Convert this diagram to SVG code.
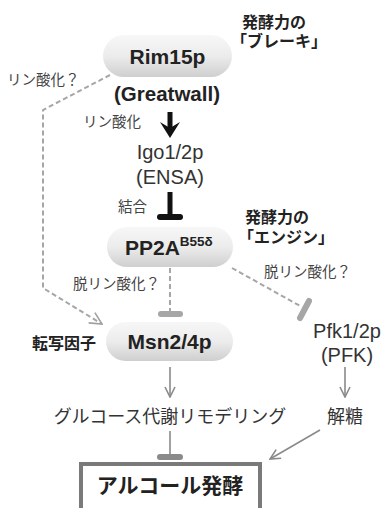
<svg xmlns="http://www.w3.org/2000/svg" width="385" height="508" viewBox="0 0 385 508">
<defs>
<linearGradient id="pill" x1="0" y1="0" x2="0" y2="1">
<stop offset="0" stop-color="#f7f7f7"/>
<stop offset="0.5" stop-color="#ececec"/>
<stop offset="1" stop-color="#cfcfcf"/>
</linearGradient>
<marker id="open" viewBox="0 0 12 12" refX="11" refY="6" markerWidth="12" markerHeight="12" markerUnits="userSpaceOnUse" orient="auto">
<path d="M1,1 L11,6 L1,11" fill="none" stroke="#8a8a8a" stroke-width="1.6"/>
</marker>
<marker id="openD" viewBox="0 0 14 14" refX="13" refY="7" markerWidth="14" markerHeight="14" markerUnits="userSpaceOnUse" orient="auto">
<path d="M1,1 L13,7 L1,13" fill="none" stroke="#a0a0a0" stroke-width="1.6"/>
</marker>
</defs>
<style>
text{font-family:"Liberation Sans","Noto Sans CJK JP",sans-serif;fill:#333}
.b{font-weight:bold;fill:#222}
.pillt{font-weight:bold;font-size:21px;fill:#222}
.lab{font-size:14.5px;fill:#444}
.reg{font-size:20px;fill:#333}
.jreg{font-size:18px;fill:#333}
.note{font-size:16px;font-weight:bold;fill:#222}
.dash{fill:none;stroke:#a6a6a6;stroke-width:2;stroke-dasharray:5,3}
.gray{fill:none;stroke:#8a8a8a;stroke-width:1.6}
.tbar{stroke:#8a8a8a;stroke-width:6;stroke-linecap:round}
.tbarL{stroke:#a6a6a6;stroke-width:6;stroke-linecap:round}
</style>

<g id="connectors">
<polyline class="dash" points="110,75 43,110 43,288 102,324" marker-end="url(#openD)"/>
<line x1="170" y1="112" x2="170" y2="128" stroke="#111" stroke-width="5"/>
<path d="M160,122 L170,128 L180,122 L170,138 Z" fill="#111"/>
<line x1="170" y1="192" x2="170" y2="216" stroke="#111" stroke-width="5"/>
<line x1="160" y1="217" x2="180" y2="217" stroke="#111" stroke-width="6" stroke-linecap="round"/>
<line class="dash" x1="170" y1="268" x2="170" y2="311"/>
<line class="tbarL" x1="161" y1="314" x2="180" y2="314"/>
<line class="dash" x1="232" y1="268" x2="302" y2="307"/>
<line class="tbarL" x1="300" y1="318" x2="309" y2="301"/>
<line class="gray" x1="170" y1="367" x2="170" y2="397" marker-end="url(#open)"/>
<line class="gray" x1="345" y1="367" x2="345" y2="397" marker-end="url(#open)"/>
<line class="gray" x1="170" y1="431" x2="170" y2="455" stroke-width="2"/>
<line class="tbar" x1="160" y1="457" x2="180" y2="457"/>
<line class="gray" x1="320" y1="430" x2="270" y2="459" marker-end="url(#open)"/>
</g>

<g id="rim15p">
<rect x="103" y="35" width="129" height="42" rx="21" fill="url(#pill)"/>
<text class="pillt" x="167.5" y="64" text-anchor="middle">Rim15p</text>
<text class="b" x="167" y="101" text-anchor="middle" font-size="20.5">(Greatwall)</text>
</g>
<g id="brake-note">
<text class="note" x="242" y="28">発酵力の</text>
<text class="note" x="231" y="47">「ブレーキ」</text>
</g>
<g id="label-phos-q1">
<text class="lab" x="7" y="85">リン酸化？</text>
</g>
<g id="label-phos">
<text class="lab" x="83" y="127">リン酸化</text>
</g>
<g id="igo">
<text class="reg" x="170" y="159" text-anchor="middle">Igo1/2p</text>
<text class="reg" x="170" y="184" text-anchor="middle">(ENSA)</text>
</g>
<g id="label-bind">
<text class="lab" x="118" y="212">結合</text>
</g>
<g id="engine-note">
<text class="note" x="245" y="223">発酵力の</text>
<text class="note" x="238" y="243">「エンジン」</text>
</g>
<g id="pp2a">
<rect x="107" y="227" width="126" height="40" rx="20" fill="url(#pill)"/>
<text class="pillt" x="125" y="255">PP2A<tspan font-size="13.5" dy="-9">B55δ</tspan></text>
</g>
<g id="label-dephos-left">
<text class="lab" x="73" y="289">脱リン酸化？</text>
</g>
<g id="label-dephos-right">
<text class="lab" x="264" y="277">脱リン酸化？</text>
</g>
<g id="msn">
<rect x="106" y="322" width="127" height="39" rx="19.5" fill="url(#pill)"/>
<text class="pillt" x="169.5" y="349" text-anchor="middle">Msn2/4p</text>
<text class="note" x="32" y="349" font-size="16.5">転写因子</text>
</g>
<g id="pfk">
<text class="reg" x="347" y="338" text-anchor="middle">Pfk1/2p</text>
<text class="reg" x="347" y="362" text-anchor="middle">(PFK)</text>
</g>
<g id="remodeling">
<text class="jreg" x="170" y="423" text-anchor="middle">グルコース代謝リモデリング</text>
</g>
<g id="glycolysis">
<text class="jreg" x="345" y="423" text-anchor="middle">解糖</text>
</g>
<g id="fermentation">
<rect x="81" y="464" width="179" height="60" fill="#fff" stroke="#7a7a7a" stroke-width="4"/>
<text class="pillt" x="170" y="493" text-anchor="middle" font-size="20">アルコール発酵</text>
</g>
</svg>
